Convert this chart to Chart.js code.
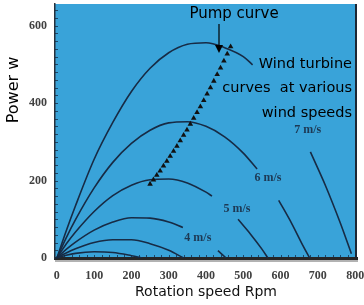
<!DOCTYPE html>
<html>
<head>
<meta charset="utf-8">
<style>
  html, body { margin: 0; padding: 0; background: #fff; }
</style>
</head>
<body>
<canvas id="myPower" width="364" height="305"></canvas>
<script src="https://cdn.jsdelivr.net/npm/chart.js@4.4.1/dist/chart.umd.min.js"></script>
<script>
// tick labels
let xTicks = [0, 100, 200, 300, 400, 500, 600, 700, 800];
let yTicks = [0, 200, 400, 600];

// wind turbine curves, rpm vs watts (null = line hidden behind a label)
let rpm2 = [0, 25, 50, 100, 150, 200, 230];
let power2 = [0, 7, 12, 16, 14, 6, 0];

let rpm3 = [0, 25, 50, 100, 150, 200, 250, 300, 340];
let power3 = [0, 13, 24, 40, 47, 47, 37, 20, 0];

let rpm4 = [0, 25, 50, 100, 150, 200, 250, 300, 338, 390, 432, 454];
let power4 = [0, 22, 41, 72, 93, 104, 103, 93, 79, null, 19, 0];

let rpm5 = [0, 25, 50, 100, 150, 200, 250, 300, 350, 400, 416, 450, 486, 520, 550, 566];
let power5 = [0, 36, 67, 120, 161, 188, 202, 204, 194, 170, 160, null, 100, 61, 23, 0];

let rpm6 = [0, 25, 50, 100, 150, 200, 250, 300, 350, 400, 450, 500, 537, 565, 595, 630, 660, 678];
let power6 = [0, 52, 99, 181, 247, 296, 330, 349, 352, 340, 313, 271, 230, null, 149, 89, 32, 0];

let rpm7 = [0, 25, 50, 100, 150, 200, 250, 300, 350, 400, 450, 500, 525, 600, 680, 720, 760, 790];
let power7 = [0, 70, 135, 255, 350, 430, 490, 530, 552, 556, 543, 520, 499, null, 274, 188, 91, 11];

// pump curve
let pumpRpm = [250, 259, 268, 277, 286, 295, 304, 313, 322, 331, 340, 349, 358, 367, 376, 385, 394, 403, 412, 421, 430, 439, 448, 457, 466];
let pumpPower = [191, 202, 214, 225, 238, 250, 263, 276, 289, 303, 317, 331, 346, 361, 376, 391, 407, 424, 440, 457, 474, 491, 509, 527, 546];

let speedLabels = ['7 m/s', '6 m/s', '5 m/s', '4 m/s'];

function toPoints(xs, ys) {
    return xs.map((v, i) => ({ x: v, y: ys[i] }));
}

function windCurve(xs, ys) {
    return {
        data: toPoints(xs, ys),
        borderColor: '#172b45',
        borderWidth: 1.6,
        pointRadius: 0,
        cubicInterpolationMode: 'monotone',
        spanGaps: false,
        order: 1
    };
}

const decorations = {
    id: 'decorations',
    beforeDraw(chart) {
        const { ctx, chartArea: a } = chart;
        ctx.save();
        ctx.fillStyle = '#39a3d9';
        ctx.fillRect(a.left, a.top, a.right - a.left, a.bottom - a.top);
        ctx.restore();
    },
    afterDatasetsDraw(chart) {
        const { ctx, chartArea: a, scales: { x, y } } = chart;
        ctx.save();

        // small ticks inside the frame
        ctx.strokeStyle = 'rgba(20, 40, 65, 0.75)';
        ctx.lineWidth = 1;
        for (let v = 0; v <= 800; v += 20) {
            let px = Math.round(x.getPixelForValue(v)) + 0.5;
            ctx.beginPath();
            ctx.moveTo(px, a.bottom);
            ctx.lineTo(px, a.bottom - 3);
            ctx.stroke();
        }
        for (let v = 0; v <= 640; v += 20) {
            let py = Math.round(y.getPixelForValue(v)) + 0.5;
            ctx.beginPath();
            ctx.moveTo(a.left, py);
            ctx.lineTo(a.left + 3, py);
            ctx.stroke();
        }

        // right edge and shadow under bottom edge
        ctx.strokeStyle = '#1c2734';
        ctx.lineWidth = 2;
        ctx.beginPath();
        ctx.moveTo(a.right - 1, a.top);
        ctx.lineTo(a.right - 1, a.bottom);
        ctx.stroke();
        ctx.strokeStyle = 'rgba(0, 0, 0, 0.3)';
        ctx.beginPath();
        ctx.moveTo(a.left, a.bottom + 3);
        ctx.lineTo(a.right + 1, a.bottom + 3);
        ctx.stroke();

        // wind speed labels
        let spots = [[673, 330], [566, 208], [483, 127], [378, 51]];
        ctx.font = 'bold 12px "Liberation Serif"';
        ctx.fillStyle = '#1d3954';
        ctx.textAlign = 'center';
        ctx.textBaseline = 'middle';
        speedLabels.forEach((t, i) => {
            ctx.fillText(t, x.getPixelForValue(spots[i][0]), y.getPixelForValue(spots[i][1]));
        });

        // annotations
        ctx.fillStyle = '#000';
        ctx.textBaseline = 'alphabetic';
        ctx.font = '15px "DejaVu Sans"';
        ctx.textAlign = 'center';
        ctx.fillText('Pump curve', 234, 18);
        ctx.font = '14.5px "DejaVu Sans"';
        ctx.textAlign = 'right';
        ctx.fillText('Wind turbine', 352, 68);
        ctx.fillText('curves  at various', 352, 92);
        ctx.fillText('wind speeds', 352, 117);

        // arrow from the pump label
        ctx.strokeStyle = '#000';
        ctx.lineWidth = 1.2;
        ctx.beginPath();
        ctx.moveTo(219, 24);
        ctx.lineTo(219, 46);
        ctx.stroke();
        ctx.beginPath();
        ctx.moveTo(215, 45);
        ctx.lineTo(223, 45);
        ctx.lineTo(219, 53);
        ctx.closePath();
        ctx.fill();

        // y title
        ctx.translate(14, 90);
        ctx.rotate(-Math.PI / 2);
        ctx.font = '16px "DejaVu Sans"';
        ctx.textAlign = 'center';
        ctx.textBaseline = 'middle';
        ctx.fillText('Power w', 0, 0);
        ctx.restore();
    }
};

let myPower = new Chart(document.getElementById('myPower').getContext('2d'), {
    type: 'line',
    data: {
        datasets: [
            {
                data: toPoints(pumpRpm, pumpPower),
                showLine: false,
                pointStyle: 'triangle',
                pointRadius: 3.2,
                backgroundColor: '#111',
                borderColor: '#111',
                borderWidth: 0,
                order: 0
            },
            windCurve(rpm7, power7),
            windCurve(rpm6, power6),
            windCurve(rpm5, power5),
            windCurve(rpm4, power4),
            windCurve(rpm3, power3),
            windCurve(rpm2, power2)
        ]
    },
    options: {
        responsive: false,
        animation: false,
        layout: { padding: { top: 0, right: 7, bottom: 0, left: 0 } },
        plugins: {
            legend: { display: false },
            tooltip: { enabled: false }
        },
        scales: {
            x: {
                type: 'linear',
                min: -5,
                max: 805,
                afterBuildTicks: s => { s.ticks = xTicks.map(v => ({ value: v })); },
                afterFit: s => { s.height = 47; s.paddingLeft = 0; s.paddingRight = 0; },
                grid: { display: false, drawTicks: false },
                border: { display: true, color: '#262626', width: 3 },
                ticks: {
                    padding: 11,
                    maxRotation: 0,
                    color: '#404040',
                    font: { family: 'Liberation Serif', size: 12, weight: 'bold' }
                },
                title: {
                    display: true,
                    text: 'Rotation speed Rpm',
                    color: '#111',
                    font: { family: 'DejaVu Sans', size: 14 },
                    padding: { top: 0, bottom: 4 }
                }
            },
            y: {
                min: 0,
                max: 656,
                afterBuildTicks: s => { s.ticks = yTicks.map(v => ({ value: v })); },
                afterFit: s => { s.width = 55; s.paddingTop = 0; s.paddingBottom = 0; },
                grid: { display: false, drawTicks: false },
                border: { display: true, color: '#26303c', width: 1.5 },
                ticks: {
                    padding: 8,
                    color: '#404040',
                    font: { family: 'Liberation Serif', size: 12, weight: 'bold' }
                }
            }
        }
    },
    plugins: [decorations]
});
</script>
</body>
</html>
